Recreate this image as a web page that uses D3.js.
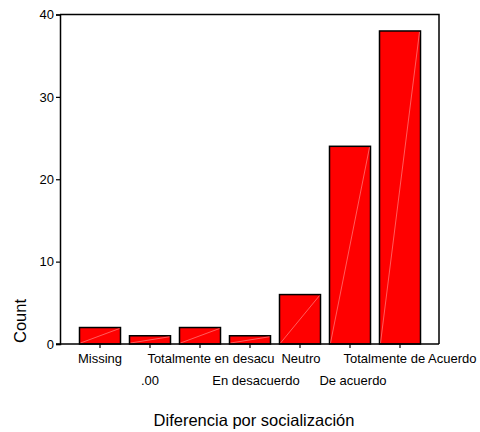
<!DOCTYPE html>
<html>
<head>
<meta charset="utf-8">
<script src="https://cdn.jsdelivr.net/npm/d3@7"></script>
<style>
  body { margin: 0; background: #fff; }
  text { font-family: "Liberation Sans", Arial, sans-serif; fill: #000; }
</style>
</head>
<body>
<div id="chart"></div>
<script>
// values
var categories = ["Missing", ".00", "Totalmente en desacu", "En desacuerdo", "Neutro", "De acuerdo", "Totalmente de Acuerdo"];
var counts = [2, 1, 2, 1, 6, 24, 38];
var yTicks = [0, 10, 20, 30, 40];
// small nudges so the long labels sit as in the original
var labelShift = [0, 0, 11, 6, 1, 3, 10];

var W = 480, H = 432;
var plotLeft = 60, plotRight = 439, plotTop = 14.5, plotBottom = 344;

var svg = d3.select("#chart").append("svg")
  .attr("width", W)
  .attr("height", H);

var x = d3.scaleBand().domain(categories).range([75, 425])
  .paddingInner(0.18).paddingOuter(0.09);
var y = d3.scaleLinear().domain([0, 40]).range([plotBottom, plotTop]);

// frame (top + right)
svg.append("path")
  .attr("d", "M" + plotLeft + "," + plotTop + "H" + plotRight + "V" + plotBottom)
  .attr("fill", "none").attr("stroke", "#000").attr("stroke-width", 1.5);

// bars
var data = categories.map(function(c, i) { return { cat: c, n: counts[i] }; });
var bars = svg.append("g");
bars.selectAll("rect")
  .data(data)
  .enter().append("rect")
    .attr("x", d => x(d.cat))
    .attr("y", d => y(d.n))
    .attr("width", x.bandwidth())
    .attr("height", d => y(0) - y(d.n))
    .attr("fill", "#ff0000")
    .attr("stroke", "#000")
    .attr("stroke-width", 1.5);
// faint diagonal line in each bar
bars.selectAll("line")
  .data(data)
  .enter().append("line")
    .attr("x1", d => x(d.cat) + 1)
    .attr("y1", y(0) - 1)
    .attr("x2", d => x(d.cat) + x.bandwidth() - 1)
    .attr("y2", d => y(d.n) + 1)
    .attr("stroke", "#ff9a9a")
    .attr("stroke-width", 0.6);

// y axis
var yAxis = d3.axisLeft(y).tickValues(yTicks).tickSize(4).tickPadding(2);
var gy = svg.append("g")
  .attr("transform", "translate(" + plotLeft + ",0)")
  .call(yAxis);
gy.select(".domain").attr("stroke-width", 1.5);
gy.selectAll(".tick line").attr("stroke-width", 1.2);
gy.selectAll("text").style("font-size", "13px").attr("fill", "#000");

// x axis
var xAxis = d3.axisBottom(x).tickSize(4).tickSizeOuter(0).tickFormat("");
var gx = svg.append("g")
  .attr("transform", "translate(0," + plotBottom + ")")
  .call(xAxis);
gx.select(".domain").attr("d", "M" + (plotLeft - 4) + ",0H" + plotRight).attr("stroke-width", 1.5);
gx.selectAll(".tick line").attr("stroke-width", 1.2);

// staggered category labels
svg.append("g").selectAll("text")
  .data(categories)
  .enter().append("text")
    .attr("x", (d, i) => x(d) + x.bandwidth() / 2 + labelShift[i])
    .attr("y", (d, i) => i % 2 === 0 ? 363 : 385)
    .attr("text-anchor", "middle")
    .style("font-size", "13px")
    .text(d => d);

// axis titles
svg.append("text")
  .attr("transform", "translate(26,321) rotate(-90)")
  .attr("text-anchor", "middle")
  .style("font-size", "16.5px")
  .text("Count");

svg.append("text")
  .attr("x", 254)
  .attr("y", 426)
  .attr("text-anchor", "middle")
  .style("font-size", "16.5px")
  .text("Diferencia por socialización");
</script>
</body>
</html>
